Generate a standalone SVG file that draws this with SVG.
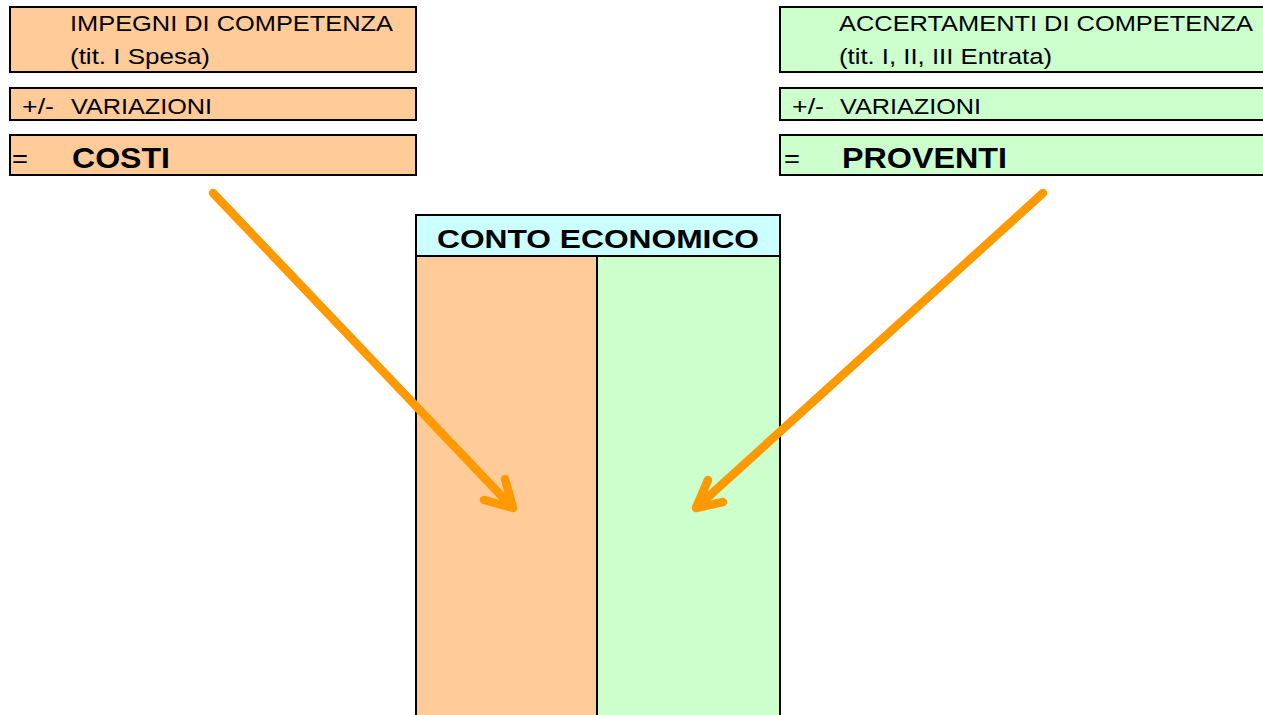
<svg xmlns="http://www.w3.org/2000/svg" width="1263" height="715" viewBox="0 0 1263 715">
<style>
.box{stroke:#000;stroke-width:2}
.cost{fill:#FFCC99}
.prov{fill:#CCFFCC}
.head{fill:#CCFFFF}
.t{font-family:"Liberation Sans",Arial,sans-serif;font-size:21.5px;fill:#000}
.eq{font-size:26px}
.b{font-family:"Liberation Sans",Arial,sans-serif;font-weight:bold;fill:#000}
.arr{fill:none;stroke:#FF9900;stroke-width:8.5;stroke-linecap:round;stroke-linejoin:round}
</style>
<rect width="1263" height="715" fill="#fff"/>
<g id="impegni">
<rect class="box cost" x="10" y="7" width="406" height="65"/>
<text class="t" x="70" y="31" textLength="323" lengthAdjust="spacingAndGlyphs">IMPEGNI DI COMPETENZA</text>
<text class="t" x="70" y="64" textLength="140" lengthAdjust="spacingAndGlyphs">(tit. I Spesa)</text>
</g>
<g id="variazioni-costi">
<rect class="box cost" x="10" y="88" width="406" height="32"/>
<text class="t" x="22" y="114" textLength="32" lengthAdjust="spacingAndGlyphs">+/-</text>
<text class="t" x="71" y="114" textLength="141" lengthAdjust="spacingAndGlyphs">VARIAZIONI</text>
</g>
<g id="costi">
<rect class="box cost" x="10" y="135" width="406" height="40"/>
<text class="t eq" x="12" y="167" textLength="16" lengthAdjust="spacingAndGlyphs">=</text>
<text class="b" x="72" y="168" font-size="30" textLength="98" lengthAdjust="spacingAndGlyphs">COSTI</text>
</g>
<g id="accertamenti">
<rect class="box prov" x="780" y="7" width="495" height="65"/>
<text class="t" x="839" y="31" textLength="414" lengthAdjust="spacingAndGlyphs">ACCERTAMENTI DI COMPETENZA</text>
<text class="t" x="839" y="64" textLength="213" lengthAdjust="spacingAndGlyphs">(tit. I, II, III Entrata)</text>
</g>
<g id="variazioni-proventi">
<rect class="box prov" x="780" y="88" width="495" height="32"/>
<text class="t" x="792" y="114" textLength="32" lengthAdjust="spacingAndGlyphs">+/-</text>
<text class="t" x="840" y="114" textLength="141" lengthAdjust="spacingAndGlyphs">VARIAZIONI</text>
</g>
<g id="proventi">
<rect class="box prov" x="780" y="135" width="495" height="40"/>
<text class="t eq" x="784" y="167" textLength="16" lengthAdjust="spacingAndGlyphs">=</text>
<text class="b" x="842" y="168" font-size="30" textLength="165" lengthAdjust="spacingAndGlyphs">PROVENTI</text>
</g>
<g id="conto-economico">
<rect class="box cost" x="416" y="256" width="181" height="470"/>
<rect class="box prov" x="597" y="256" width="183" height="470"/>
<rect class="box head" x="416" y="215" width="364" height="41"/>
<text class="b" x="437" y="248" font-size="26" textLength="322" lengthAdjust="spacingAndGlyphs">CONTO ECONOMICO</text>
</g>
<g id="connectors">
<path class="arr" d="M213,193 L513,508 M505,479 L513,508 L484,500"/>
<path class="arr" d="M1043,193 L696,508 M708,480 L696,508 L723,502"/>
</g>
</svg>
